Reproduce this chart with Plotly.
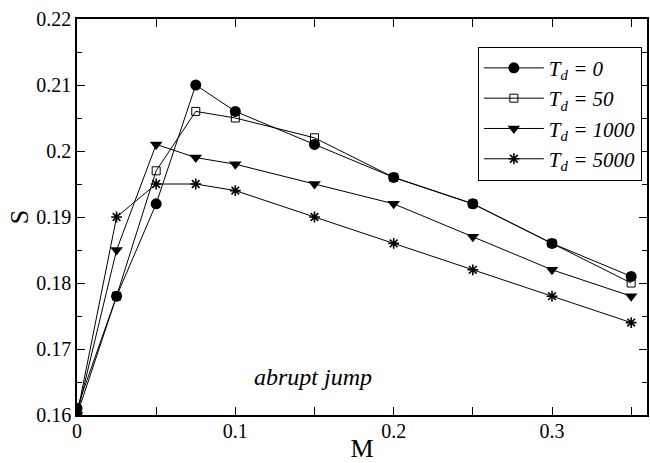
import plotly.graph_objects as go

M = [0, 0.025, 0.05, 0.075, 0.1, 0.15, 0.2, 0.25, 0.3, 0.35]
S_td0 = [0.161, 0.178, 0.192, 0.210, 0.206, 0.201, 0.196, 0.192, 0.186, 0.181]
S_td50 = [0.160, 0.178, 0.197, 0.206, 0.205, 0.202, 0.196, 0.192, 0.186, 0.180]
S_td1000 = [0.160, 0.185, 0.201, 0.199, 0.198, 0.195, 0.192, 0.187, 0.182, 0.178]
S_td5000 = [0.160, 0.190, 0.195, 0.195, 0.194, 0.190, 0.186, 0.182, 0.178, 0.174]
series_names = ["0", "50", "1000", "5000"]

x_ticks = [0, 0.1, 0.2, 0.3]
x_ticktext = ["0", "0.1", "0.2", "0.3"]
y_ticks = [0.16, 0.17, 0.18, 0.19, 0.20, 0.21, 0.22]
y_ticktext = ["0.16", "0.17", "0.18", "0.19", "0.2", "0.21", "0.22"]

FONT = "Liberation Serif"

styles = [
    dict(symbol="circle", size=11, color="black", line=dict(width=0)),
    dict(symbol="square-open", size=8, color="black", line=dict(width=1)),
    dict(symbol="triangle-down", size=11, color="black", line=dict(width=0)),
    dict(symbol="asterisk-open", size=9, color="black", line=dict(width=1.6, color="black")),
]

fig = go.Figure()
for name, ys, st in zip(series_names, [S_td0, S_td50, S_td1000, S_td5000], styles):
    fig.add_trace(go.Scatter(
        x=M, y=ys, mode="lines+markers",
        name=f"<i>T</i><sub><i>d</i></sub><i> = {name}</i>",
        line=dict(color="black", width=1),
        marker=st,
    ))

axis_common = dict(
    showline=True, linecolor="black", linewidth=1.5, mirror="allticks",
    ticks="inside", ticklen=8, tickwidth=1, tickcolor="black",
    showgrid=False, zeroline=False,
    tickfont=dict(family=FONT, size=20, color="black"),
)

fig.update_xaxes(
    range=[0, 0.36], tickvals=x_ticks, ticktext=x_ticktext,
    minor=dict(tickvals=[0.05, 0.15, 0.25, 0.35], ticks="inside", ticklen=8, tickcolor="black"),
    title=dict(text="M", font=dict(family=FONT, size=26, color="black"), standoff=2),
    ticklabelstandoff=-3,
    **axis_common,
)
fig.update_yaxes(
    range=[0.16, 0.22], tickvals=y_ticks, ticktext=y_ticktext,
    minor=dict(tickvals=[0.165, 0.175, 0.185, 0.195, 0.205, 0.215], ticks="inside", ticklen=5, tickcolor="black"),
    title=dict(text="S", font=dict(family=FONT, size=26, color="black"), standoff=0),
    **axis_common,
)

fig.add_annotation(
    x=0.149, y=0.1658, xref="x", yref="y", text="<i>abrupt jump</i>",
    showarrow=False, font=dict(family=FONT, size=24, color="black"),
)

fig.update_layout(
    width=650, height=463,
    margin=dict(l=77, r=1, t=19, b=45),
    plot_bgcolor="white", paper_bgcolor="white",
    showlegend=True,
    legend=dict(
        x=0.991, y=0.93, xanchor="right", yanchor="top",
        bordercolor="black", borderwidth=1, bgcolor="white",
        font=dict(family=FONT, size=21, color="black"),
        tracegroupgap=0, itemwidth=60,
    ),
)

fig.write_html("out.html")
